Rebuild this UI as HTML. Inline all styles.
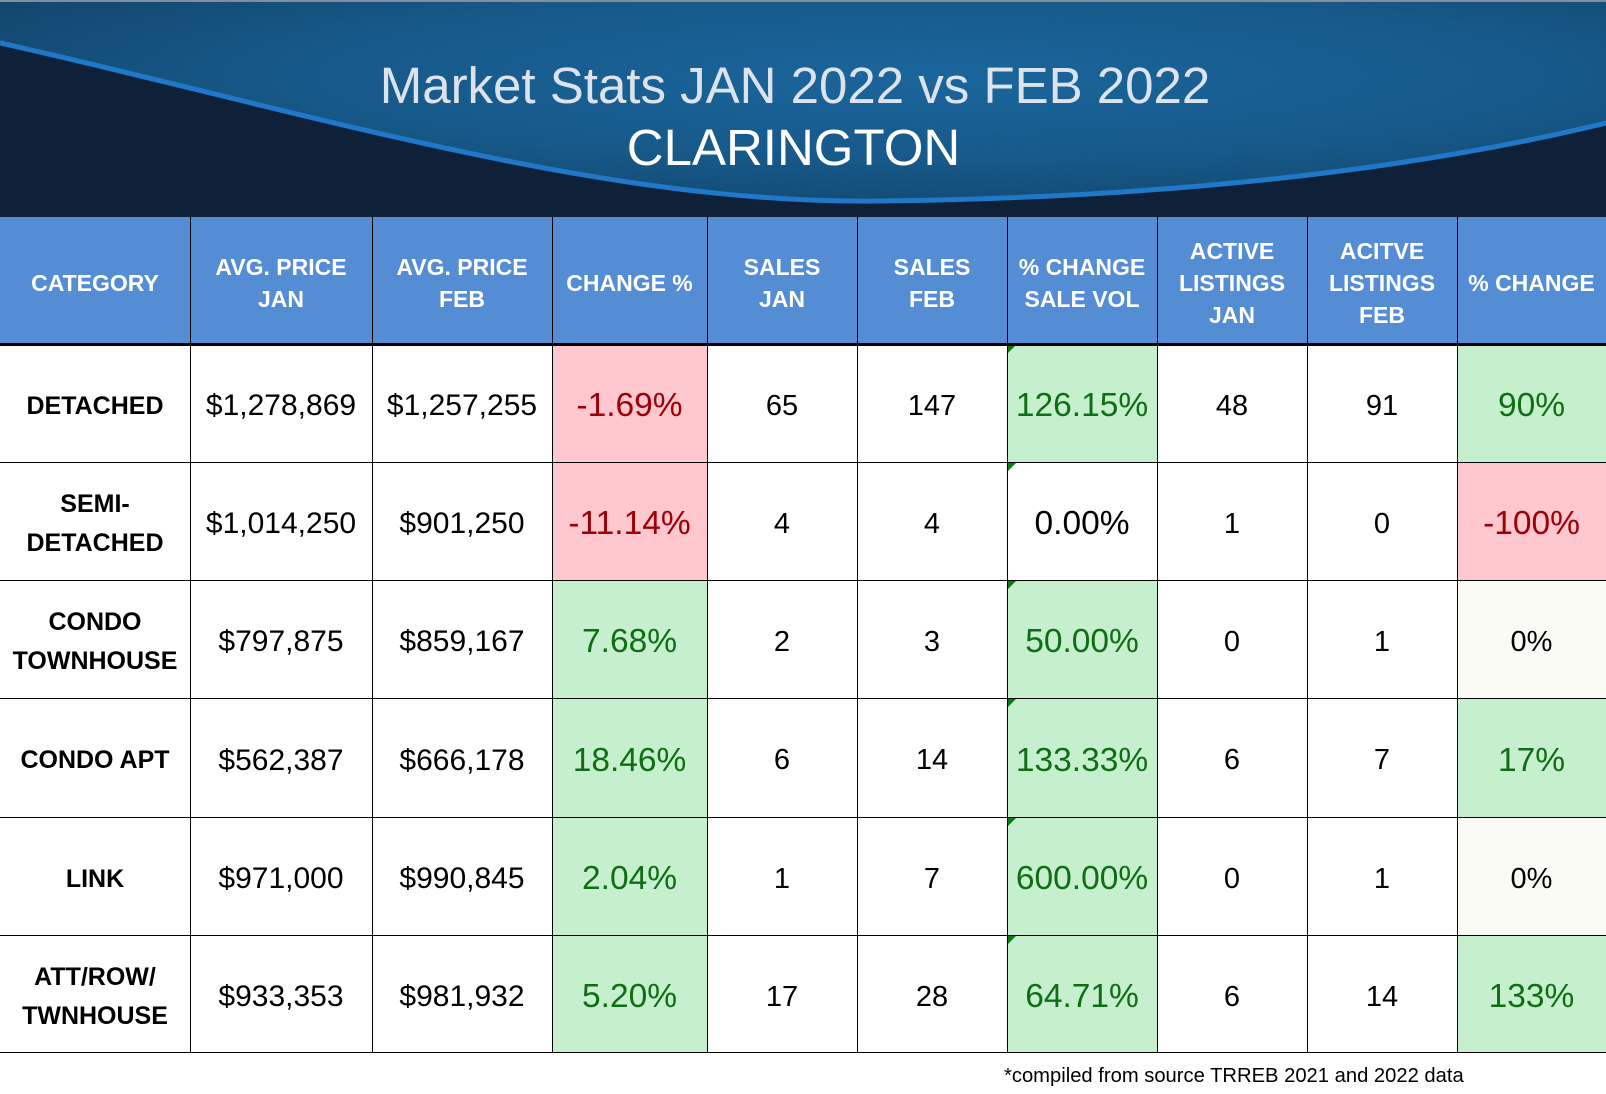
<!DOCTYPE html>
<html><head><meta charset="utf-8">
<style>
html,body{margin:0;padding:0;}
body{width:1606px;height:1094px;position:relative;overflow:hidden;background:#fff;font-family:"Liberation Sans",Arial,sans-serif;}
.c{position:absolute;display:flex;align-items:center;justify-content:center;text-align:center;box-sizing:border-box;padding-top:6px;}
.h{background:#558dd5;color:#fff;font-weight:bold;font-size:23px;line-height:32px;padding-top:4px;}
.cat{font-weight:bold;font-size:25px;line-height:39px;color:#000;}
.p{font-size:30px;color:#000;}
.n{font-size:29px;color:#000;}
.g{background:#c6efce;color:#0f6e14;font-size:33.5px;}
.r{background:#ffc7ce;color:#9c0006;font-size:33.5px;}
.w{font-size:33.5px;color:#000;}
.z{background:#fbfbf6;font-size:29px;color:#000;}
.vl{position:absolute;top:217px;height:836px;width:1.5px;background:#000;}
.hl{position:absolute;left:0;width:1606px;height:1.5px;background:#000;}
.tri{position:absolute;width:0;height:0;border-top:8px solid #0b7a12;border-right:8px solid transparent;}
</style></head><body>

<!-- Banner -->
<svg style="position:absolute;left:0;top:0" width="1606" height="217" viewBox="0 0 1606 217">
<defs>
<radialGradient id="bg" cx="0.58" cy="0.35" r="0.75">
<stop offset="0" stop-color="#1e67a0"/>
<stop offset="0.5" stop-color="#1a5a8c"/>
<stop offset="1" stop-color="#143f64"/>
</radialGradient>
<filter id="nz" x="0" y="0" width="100%" height="100%">
<feTurbulence type="fractalNoise" baseFrequency="0.6" numOctaves="2" seed="3"/>
<feColorMatrix type="matrix" values="0 0 0 0 0  0 0 0 0 0.1  0 0 0 0 0.2  0 0 0 0.35 0"/>
</filter>
</defs>
<rect x="0" y="0" width="1606" height="217" fill="url(#bg)"/>
<rect x="0" y="0" width="1606" height="217" filter="url(#nz)" opacity="0.6"/>
<path d="M0,43 C300,110 600,205 880,201 C1150,198 1400,173 1606,123 L1606,217 L0,217 Z" fill="#0e2139"/>
<path d="M0,43 C300,110 600,205 880,201 C1150,198 1400,173 1606,123" fill="none" stroke="#1f78c8" stroke-width="5"/>
<rect x="0" y="0" width="1606" height="2" fill="#7f8fa0"/>
</svg>
<div style="position:absolute;left:0;width:1590px;top:60px;text-align:center;font-size:51px;line-height:51px;color:#dde3ec;">Market Stats JAN 2022 vs FEB 2022</div>
<div style="position:absolute;left:0;width:1587px;top:122px;text-align:center;font-size:51px;line-height:51px;color:#fff;">CLARINGTON</div>

<!-- Header -->
<div class="c h" style="left:0;top:217px;width:190px;height:127px;">CATEGORY</div>
<div class="c h" style="left:190px;top:217px;width:182px;height:127px;">AVG. PRICE<br>JAN</div>
<div class="c h" style="left:372px;top:217px;width:180px;height:127px;">AVG. PRICE<br>FEB</div>
<div class="c h" style="left:552px;top:217px;width:155px;height:127px;">CHANGE %</div>
<div class="c h" style="left:707px;top:217px;width:150px;height:127px;">SALES<br>JAN</div>
<div class="c h" style="left:857px;top:217px;width:150px;height:127px;">SALES<br>FEB</div>
<div class="c h" style="left:1007px;top:217px;width:150px;height:127px;">% CHANGE<br>SALE VOL</div>
<div class="c h" style="left:1157px;top:217px;width:150px;height:127px;">ACTIVE<br>LISTINGS<br>JAN</div>
<div class="c h" style="left:1307px;top:217px;width:150px;height:127px;">ACITVE<br>LISTINGS<br>FEB</div>
<div class="c h" style="left:1457px;top:217px;width:149px;height:127px;">% CHANGE</div>

<!-- Row 1 -->
<div class="c cat" style="left:0;top:344px;width:190px;height:118px;">DETACHED</div>
<div class="c p" style="left:190px;top:344px;width:182px;height:118px;">$1,278,869</div>
<div class="c p" style="left:372px;top:344px;width:180px;height:118px;">$1,257,255</div>
<div class="c r" style="left:552px;top:344px;width:155px;height:118px;">-1.69%</div>
<div class="c n" style="left:707px;top:344px;width:150px;height:118px;">65</div>
<div class="c n" style="left:857px;top:344px;width:150px;height:118px;">147</div>
<div class="c g" style="left:1007px;top:344px;width:150px;height:118px;">126.15%</div>
<div class="c n" style="left:1157px;top:344px;width:150px;height:118px;">48</div>
<div class="c n" style="left:1307px;top:344px;width:150px;height:118px;">91</div>
<div class="c g" style="left:1457px;top:344px;width:149px;height:118px;">90%</div>

<!-- Row 2 -->
<div class="c cat" style="left:0;top:462px;width:190px;height:118px;">SEMI-<br>DETACHED</div>
<div class="c p" style="left:190px;top:462px;width:182px;height:118px;">$1,014,250</div>
<div class="c p" style="left:372px;top:462px;width:180px;height:118px;">$901,250</div>
<div class="c r" style="left:552px;top:462px;width:155px;height:118px;">-11.14%</div>
<div class="c n" style="left:707px;top:462px;width:150px;height:118px;">4</div>
<div class="c n" style="left:857px;top:462px;width:150px;height:118px;">4</div>
<div class="c w" style="left:1007px;top:462px;width:150px;height:118px;">0.00%</div>
<div class="c n" style="left:1157px;top:462px;width:150px;height:118px;">1</div>
<div class="c n" style="left:1307px;top:462px;width:150px;height:118px;">0</div>
<div class="c r" style="left:1457px;top:462px;width:149px;height:118px;">-100%</div>

<!-- Row 3 -->
<div class="c cat" style="left:0;top:580px;width:190px;height:118px;">CONDO<br>TOWNHOUSE</div>
<div class="c p" style="left:190px;top:580px;width:182px;height:118px;">$797,875</div>
<div class="c p" style="left:372px;top:580px;width:180px;height:118px;">$859,167</div>
<div class="c g" style="left:552px;top:580px;width:155px;height:118px;">7.68%</div>
<div class="c n" style="left:707px;top:580px;width:150px;height:118px;">2</div>
<div class="c n" style="left:857px;top:580px;width:150px;height:118px;">3</div>
<div class="c g" style="left:1007px;top:580px;width:150px;height:118px;">50.00%</div>
<div class="c n" style="left:1157px;top:580px;width:150px;height:118px;">0</div>
<div class="c n" style="left:1307px;top:580px;width:150px;height:118px;">1</div>
<div class="c z" style="left:1457px;top:580px;width:149px;height:118px;">0%</div>

<!-- Row 4 -->
<div class="c cat" style="left:0;top:698px;width:190px;height:119px;">CONDO APT</div>
<div class="c p" style="left:190px;top:698px;width:182px;height:119px;">$562,387</div>
<div class="c p" style="left:372px;top:698px;width:180px;height:119px;">$666,178</div>
<div class="c g" style="left:552px;top:698px;width:155px;height:119px;">18.46%</div>
<div class="c n" style="left:707px;top:698px;width:150px;height:119px;">6</div>
<div class="c n" style="left:857px;top:698px;width:150px;height:119px;">14</div>
<div class="c g" style="left:1007px;top:698px;width:150px;height:119px;">133.33%</div>
<div class="c n" style="left:1157px;top:698px;width:150px;height:119px;">6</div>
<div class="c n" style="left:1307px;top:698px;width:150px;height:119px;">7</div>
<div class="c g" style="left:1457px;top:698px;width:149px;height:119px;">17%</div>

<!-- Row 5 -->
<div class="c cat" style="left:0;top:817px;width:190px;height:118px;">LINK</div>
<div class="c p" style="left:190px;top:817px;width:182px;height:118px;">$971,000</div>
<div class="c p" style="left:372px;top:817px;width:180px;height:118px;">$990,845</div>
<div class="c g" style="left:552px;top:817px;width:155px;height:118px;">2.04%</div>
<div class="c n" style="left:707px;top:817px;width:150px;height:118px;">1</div>
<div class="c n" style="left:857px;top:817px;width:150px;height:118px;">7</div>
<div class="c g" style="left:1007px;top:817px;width:150px;height:118px;">600.00%</div>
<div class="c n" style="left:1157px;top:817px;width:150px;height:118px;">0</div>
<div class="c n" style="left:1307px;top:817px;width:150px;height:118px;">1</div>
<div class="c z" style="left:1457px;top:817px;width:149px;height:118px;">0%</div>

<!-- Row 6 -->
<div class="c cat" style="left:0;top:935px;width:190px;height:118px;">ATT/ROW/<br>TWNHOUSE</div>
<div class="c p" style="left:190px;top:935px;width:182px;height:118px;">$933,353</div>
<div class="c p" style="left:372px;top:935px;width:180px;height:118px;">$981,932</div>
<div class="c g" style="left:552px;top:935px;width:155px;height:118px;">5.20%</div>
<div class="c n" style="left:707px;top:935px;width:150px;height:118px;">17</div>
<div class="c n" style="left:857px;top:935px;width:150px;height:118px;">28</div>
<div class="c g" style="left:1007px;top:935px;width:150px;height:118px;">64.71%</div>
<div class="c n" style="left:1157px;top:935px;width:150px;height:118px;">6</div>
<div class="c n" style="left:1307px;top:935px;width:150px;height:118px;">14</div>
<div class="c g" style="left:1457px;top:935px;width:149px;height:118px;">133%</div>

<!-- triangles -->
<div class="tri" style="left:1008px;top:345px;"></div>
<div class="tri" style="left:1008px;top:463px;"></div>
<div class="tri" style="left:1008px;top:581px;"></div>
<div class="tri" style="left:1008px;top:699px;"></div>
<div class="tri" style="left:1008px;top:818px;"></div>
<div class="tri" style="left:1008px;top:936px;"></div>

<!-- grid lines -->
<div class="vl" style="left:189.5px;"></div>
<div class="vl" style="left:371.5px;"></div>
<div class="vl" style="left:551.5px;"></div>
<div class="vl" style="left:706.5px;"></div>
<div class="vl" style="left:856.5px;"></div>
<div class="vl" style="left:1006.5px;"></div>
<div class="vl" style="left:1156.5px;"></div>
<div class="vl" style="left:1306.5px;"></div>
<div class="vl" style="left:1456.5px;"></div>
<div class="hl" style="top:343px;height:2.5px;"></div>
<div class="hl" style="top:461.5px;"></div>
<div class="hl" style="top:579.5px;"></div>
<div class="hl" style="top:697.5px;"></div>
<div class="hl" style="top:816.5px;"></div>
<div class="hl" style="top:934.5px;"></div>
<div class="hl" style="top:1051.5px;"></div>

<div style="position:absolute;left:1004px;top:1064px;font-size:20.2px;line-height:24px;color:#000;white-space:nowrap;">*compiled from source TRREB 2021 and 2022 data</div>

</body></html>
